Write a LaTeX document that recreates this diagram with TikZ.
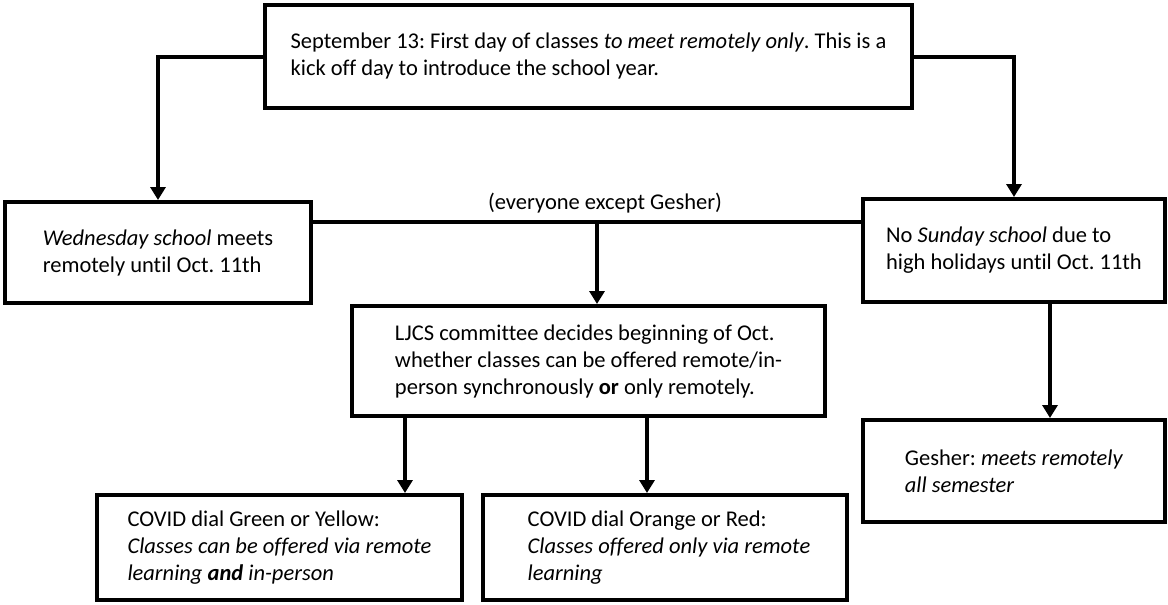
\documentclass[tikz,border=0pt]{standalone}
\usepackage{fontspec}
\setmainfont{Carlito}[Ligatures=NoCommon]
\usetikzlibrary{arrows.meta}
\begin{document}
\frenchspacing
\begin{tikzpicture}[x=1pt,y=-1pt,
  box/.style={draw, line width=4pt, align=left, inner sep=0pt, font=\fontsize{22.5}{27}\selectfont},
  conn/.style={line width=4pt, -{Triangle[width=15pt,length=13pt]}},
  plainline/.style={line width=4pt},
  lbl/.style={inner sep=0pt, font=\fontsize{22.5}{27}\selectfont}]
\useasboundingbox (0,0) rectangle (1168,605);
\node[box, minimum width=647pt, minimum height=103pt] (top) at (588.5,56.5)
  {September 13: First day of classes \textit{to meet remotely only}. This is a\\kick off day to introduce the school year.};
\node[box, minimum width=306pt, minimum height=101pt] (wed) at (158,252.5)
  {\textit{Wednesday school} meets\\remotely until Oct. 11th};
\node[box, minimum width=302pt, minimum height=103pt] (sun) at (1014,250.5)
  {No \textit{Sunday school} due to\\high holidays until Oct. 11th};
\node[box, minimum width=473pt, minimum height=110pt] (ljcs) at (588.5,361)
  {LJCS committee decides beginning of Oct.\\whether classes can be offered remote/in-\\person synchronously \textbf{or} only remotely.};
\node[box, minimum width=365pt, minimum height=105pt] (green) at (279.5,547.5)
  {COVID dial Green or Yellow:\\\textit{Classes can be offered via remote}\\\textit{learning \textbf{and} in-person}};
\node[box, minimum width=364pt, minimum height=105pt] (orange) at (665,547.5)
  {\hspace{8pt}COVID dial Orange or Red:\\\hspace{8pt}\textit{Classes offered only via remote}\\\hspace{8pt}\textit{learning}};
\node[box, minimum width=302pt, minimum height=102pt] (gesher) at (1014,471)
  {Gesher: \textit{meets remotely}\\\textit{all semester}};
\node[lbl] (everyone) at (605,203) {(everyone except Gesher)};
\coordinate (j) at (597,222);
\coordinate (ga) at (405,0);
\coordinate (oa) at (647,0);
\coordinate (sa) at (1050,0);
\draw[conn] (top.west) -| (wed.north);
\draw[conn] (top.east) -| (sun.north);
\draw[plainline] (wed.east |- j) -- (sun.west |- j);
\draw[conn] (j) -- (ljcs.north -| j);
\draw[conn] (ljcs.south -| ga) -- (green.north -| ga);
\draw[conn] (ljcs.south -| oa) -- (orange.north -| oa);
\draw[conn] (sun.south -| sa) -- (gesher.north -| sa);
\end{tikzpicture}
\end{document}
